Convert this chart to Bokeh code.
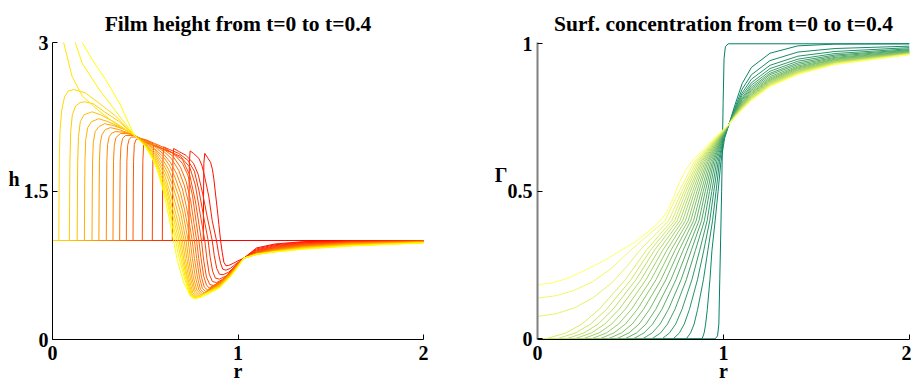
from bokeh.plotting import figure
from bokeh.layouts import row
from bokeh.models import Range1d, FixedTicker, LinearAxis
from bokeh.embed import file_html
from bokeh.resources import INLINE

# ---------------------------------------------------------------- data
times = [0.00, 0.02, 0.04, 0.06, 0.08, 0.10, 0.12, 0.14, 0.16, 0.18, 0.20,
         0.22, 0.24, 0.26, 0.28, 0.30, 0.32, 0.34, 0.36, 0.38, 0.40]

# film height h(r): head of each profile (up to r = 1.03), then shared tail grid
film_head_r = [
    [0.0, 2.0],
    [0, 0.813, 0.8145, 0.816, 0.821, 0.835, 0.852, 0.862, 0.87, 0.88, 0.888, 0.897, 0.906, 0.915, 0.924, 0.935, 0.95, 0.975, 1.0, 1.03],
    [0, 0.735, 0.7365, 0.738, 0.742, 0.76, 0.789, 0.805, 0.816, 0.83, 0.843, 0.861, 0.884, 0.895, 0.906, 0.918, 0.935, 0.96, 0.99, 1.03],
    [0, 0.646, 0.6475, 0.649, 0.653, 0.68, 0.72, 0.76, 0.785, 0.81, 0.835, 0.861, 0.872, 0.885, 0.9, 0.92, 0.95, 0.99, 1.03],
    [0, 0.592, 0.5935, 0.595, 0.599, 0.63, 0.68, 0.73, 0.765, 0.79, 0.815, 0.839, 0.85, 0.863, 0.878, 0.9, 0.94, 0.985, 1.03],
    [0, 0.538, 0.5395, 0.541, 0.545, 0.58, 0.63, 0.69, 0.74, 0.77, 0.797, 0.821, 0.832, 0.845, 0.862, 0.885, 0.93, 0.98, 1.03],
    [0, 0.484, 0.4855, 0.487, 0.492, 0.53, 0.58, 0.64, 0.7, 0.74, 0.77, 0.79, 0.803, 0.815, 0.83, 0.848, 0.87, 0.92, 0.975, 1.03],
    [0, 0.434, 0.4355, 0.437, 0.441, 0.45, 0.465, 0.5, 0.55, 0.6, 0.65, 0.7, 0.73, 0.755, 0.775, 0.789, 0.8, 0.815, 0.83, 0.845, 0.9, 0.96, 1.0, 1.03],
    [0, 0.398, 0.3995, 0.401, 0.405, 0.413, 0.425, 0.45, 0.5, 0.55, 0.6, 0.65, 0.69, 0.72, 0.745, 0.763, 0.777, 0.788, 0.803, 0.818, 0.835, 0.9, 0.96, 1.0, 1.03],
    [0, 0.362, 0.3635, 0.365, 0.369, 0.378, 0.393, 0.44, 0.5, 0.55, 0.6, 0.64, 0.68, 0.71, 0.735, 0.752, 0.765, 0.777, 0.792, 0.808, 0.826, 0.9, 0.96, 1.0, 1.03],
    [0, 0.326, 0.3275, 0.329, 0.333, 0.342, 0.366, 0.4, 0.44, 0.5, 0.55, 0.6, 0.635, 0.67, 0.7, 0.722, 0.74, 0.753, 0.765, 0.781, 0.798, 0.818, 0.9, 0.96, 1.0, 1.03],
    [0, 0.29, 0.2915, 0.293, 0.297, 0.306, 0.32, 0.339, 0.38, 0.44, 0.5, 0.55, 0.6, 0.63, 0.66, 0.69, 0.712, 0.729, 0.742, 0.754, 0.77, 0.789, 0.81, 0.9, 0.96, 1.0, 1.03],
    [0, 0.25, 0.2515, 0.253, 0.257, 0.267, 0.285, 0.312, 0.36, 0.44, 0.5, 0.55, 0.6, 0.625, 0.65, 0.68, 0.702, 0.718, 0.731, 0.743, 0.759, 0.778, 0.803, 0.9, 0.96, 1.0, 1.03],
    [0, 0.213, 0.2145, 0.216, 0.22, 0.23, 0.25, 0.281, 0.33, 0.39, 0.44, 0.5, 0.55, 0.6, 0.62, 0.645, 0.67, 0.692, 0.707, 0.72, 0.733, 0.75, 0.77, 0.797, 0.9, 0.96, 1.0, 1.03],
    [0, 0.172, 0.1735, 0.175, 0.179, 0.19, 0.21, 0.249, 0.3, 0.37, 0.44, 0.5, 0.55, 0.6, 0.62, 0.64, 0.66, 0.682, 0.697, 0.71, 0.724, 0.742, 0.764, 0.791, 0.9, 0.96, 1.0, 1.03],
    [0, 0.133, 0.1345, 0.136, 0.14, 0.15, 0.17, 0.213, 0.26, 0.33, 0.44, 0.5, 0.55, 0.6, 0.615, 0.635, 0.655, 0.673, 0.688, 0.7, 0.715, 0.734, 0.757, 0.785, 0.9, 0.96, 1.0, 1.03],
    [0, 0.091, 0.0925, 0.094, 0.098, 0.107, 0.125, 0.15, 0.178, 0.22, 0.28, 0.36, 0.44, 0.5, 0.55, 0.6, 0.615, 0.632, 0.65, 0.665, 0.679, 0.691, 0.707, 0.727, 0.752, 0.78, 0.9, 0.96, 1.0, 1.03],
    [0, 0.034, 0.0355, 0.037, 0.041, 0.05, 0.065, 0.085, 0.115, 0.178, 0.249, 0.339, 0.44, 0.5, 0.55, 0.6, 0.615, 0.63, 0.645, 0.66, 0.672, 0.682, 0.7, 0.722, 0.748, 0.775, 0.9, 0.96, 1.0, 1.03],
    [0, 0.03, 0.06, 0.105, 0.16, 0.25, 0.339, 0.44, 0.5, 0.55, 0.6, 0.615, 0.63, 0.645, 0.66, 0.673, 0.692, 0.716, 0.744, 0.77, 0.9, 0.96, 1.0, 1.03],
    [0, 0.06, 0.123, 0.16, 0.25, 0.339, 0.44, 0.5, 0.55, 0.6, 0.62, 0.637, 0.65, 0.663, 0.683, 0.71, 0.74, 0.766, 0.9, 0.96, 1.0, 1.03],
    [0, 0.08, 0.16, 0.213, 0.285, 0.366, 0.44, 0.5, 0.54, 0.565, 0.6, 0.637, 0.652, 0.673, 0.708, 0.744, 0.762, 0.8, 0.834, 0.9, 0.96, 1.0, 1.03],
]
film_head_h = [
    [1.0, 1.0],
    [1, 1, 1.5, 1.78, 1.88, 1.84, 1.79, 1.72, 1.62, 1.45, 1.32, 1.16, 1.0, 0.88, 0.78, 0.745, 0.748, 0.77, 0.795, 0.82],
    [1, 1, 1.5, 1.8, 1.905, 1.88, 1.83, 1.76, 1.68, 1.56, 1.44, 1.2, 1.0, 0.87, 0.77, 0.71, 0.70, 0.72, 0.765, 0.82],
    [1, 1, 1.5, 1.8, 1.93, 1.9, 1.86, 1.78, 1.67, 1.47, 1.23, 1.0, 0.85, 0.72, 0.66, 0.655, 0.68, 0.75, 0.82],
    [1, 1, 1.5, 1.8, 1.945, 1.92, 1.88, 1.81, 1.70, 1.50, 1.24, 1.0, 0.83, 0.69, 0.62, 0.61, 0.645, 0.74, 0.82],
    [1, 1, 1.5, 1.8, 1.96, 1.94, 1.9, 1.85, 1.74, 1.56, 1.26, 1.0, 0.82, 0.66, 0.585, 0.575, 0.62, 0.73, 0.82],
    [1, 1, 1.5, 1.8, 2.0, 1.97, 1.935, 1.89, 1.82, 1.66, 1.40, 1.16, 1.0, 0.8, 0.63, 0.555, 0.545, 0.6, 0.72, 0.82],
    [1, 1, 1.5, 1.8, 1.97, 2.02, 2.03, 2.02, 1.98, 1.94, 1.88, 1.78, 1.66, 1.45, 1.18, 1.0, 0.83, 0.64, 0.55, 0.52, 0.58, 0.68, 0.765, 0.82],
    [1, 1, 1.5, 1.8, 1.96, 2.02, 2.045, 2.045, 2.015, 1.97, 1.92, 1.85, 1.74, 1.6, 1.4, 1.17, 1.0, 0.82, 0.63, 0.53, 0.5, 0.575, 0.676, 0.763, 0.82],
    [1, 1, 1.5, 1.8, 1.95, 2.03, 2.06, 2.06, 2.01, 1.96, 1.9, 1.83, 1.71, 1.56, 1.37, 1.16, 1.0, 0.82, 0.63, 0.515, 0.485, 0.57, 0.673, 0.76, 0.82],
    [1, 1, 1.5, 1.8, 1.96, 2.04, 2.08, 2.08, 2.065, 2.005, 1.95, 1.87, 1.79, 1.67, 1.52, 1.34, 1.15, 1.0, 0.82, 0.63, 0.505, 0.47, 0.565, 0.669, 0.758, 0.82],
    [1, 1, 1.5, 1.8, 1.97, 2.05, 2.085, 2.1, 2.095, 2.065, 1.995, 1.93, 1.84, 1.76, 1.64, 1.48, 1.31, 1.14, 1.0, 0.82, 0.63, 0.5, 0.458, 0.56, 0.666, 0.755, 0.82],
    [1, 1, 1.5, 1.8, 1.98, 2.07, 2.12, 2.14, 2.12, 2.065, 1.99, 1.92, 1.8, 1.72, 1.61, 1.45, 1.29, 1.13, 1.0, 0.82, 0.63, 0.5, 0.448, 0.555, 0.662, 0.753, 0.82],
    [1, 1, 1.5, 1.8, 1.99, 2.1, 2.15, 2.18, 2.16, 2.12, 2.065, 1.98, 1.9, 1.76, 1.69, 1.57, 1.42, 1.27, 1.12, 1.0, 0.82, 0.63, 0.49, 0.44, 0.55, 0.659, 0.75, 0.82],
    [1, 1, 1.5, 1.8, 2.02, 2.14, 2.2, 2.23, 2.2, 2.14, 2.065, 1.975, 1.88, 1.72, 1.64, 1.53, 1.39, 1.24, 1.11, 1.0, 0.82, 0.63, 0.48, 0.434, 0.545, 0.655, 0.748, 0.82],
    [1, 1, 1.5, 1.8, 2.05, 2.2, 2.27, 2.3, 2.27, 2.2, 2.065, 1.97, 1.86, 1.68, 1.6, 1.48, 1.34, 1.21, 1.1, 1.0, 0.82, 0.63, 0.47, 0.428, 0.54, 0.652, 0.745, 0.82],
    [1, 1, 1.5, 1.8, 2.1, 2.27, 2.36, 2.395, 2.4, 2.38, 2.3, 2.2, 2.065, 1.965, 1.84, 1.63, 1.55, 1.43, 1.3, 1.19, 1.09, 1.0, 0.82, 0.63, 0.46, 0.423, 0.536, 0.648, 0.743, 0.82],
    [1, 1, 1.5, 1.85, 2.12, 2.32, 2.45, 2.51, 2.525, 2.49, 2.39, 2.26, 2.065, 1.96, 1.82, 1.59, 1.51, 1.39, 1.27, 1.16, 1.07, 1.0, 0.82, 0.63, 0.455, 0.419, 0.532, 0.645, 0.74, 0.82],
    [3.4, 3.25, 3.0, 2.66, 2.46, 2.31, 2.18, 2.065, 1.955, 1.8, 1.55, 1.45, 1.33, 1.2, 1.09, 1.0, 0.82, 0.63, 0.45, 0.417, 0.528, 0.642, 0.738, 0.82],
    [3.35, 3.22, 3.0, 2.79, 2.53, 2.31, 2.065, 1.953, 1.79, 1.52, 1.38, 1.22, 1.11, 1.0, 0.82, 0.63, 0.445, 0.415, 0.524, 0.638, 0.737, 0.82],
    [3.4, 3.25, 3.0, 2.83, 2.63, 2.37, 2.065, 1.95, 1.82, 1.72, 1.48, 1.15, 1.0, 0.8, 0.57, 0.44, 0.414, 0.425, 0.455, 0.52, 0.635, 0.735, 0.82],
]
film_tail_r = [1.1, 1.2, 1.35, 1.6, 2.0]
film_tail_h = [
    [],
    [0.925, 0.965, 0.988, 0.997, 1.0],
    [0.915, 0.957, 0.983, 0.995, 0.999],
    [0.905, 0.948, 0.978, 0.993, 0.998],
    [0.897, 0.94, 0.972, 0.99, 0.997],
    [0.89, 0.933, 0.966, 0.987, 0.996],
    [0.884, 0.927, 0.96, 0.984, 0.995],
    [0.879, 0.921, 0.955, 0.981, 0.994],
    [0.875, 0.916, 0.95, 0.978, 0.992],
    [0.872, 0.911, 0.946, 0.975, 0.991],
    [0.869, 0.907, 0.942, 0.972, 0.989],
    [0.867, 0.903, 0.938, 0.969, 0.988],
    [0.865, 0.9, 0.935, 0.966, 0.986],
    [0.864, 0.897, 0.932, 0.963, 0.984],
    [0.863, 0.894, 0.929, 0.96, 0.983],
    [0.862, 0.892, 0.926, 0.957, 0.981],
    [0.861, 0.89, 0.923, 0.954, 0.98],
    [0.86, 0.888, 0.92, 0.951, 0.979],
    [0.86, 0.887, 0.917, 0.948, 0.978],
    [0.86, 0.886, 0.915, 0.946, 0.977],
    [0.86, 0.885, 0.912, 0.944, 0.976],
]

# surfactant concentration Gamma(r): head of each profile, then shared tail grid
surf_head_r = [
    [0, 0.955, 0.968, 0.975, 0.98, 0.99, 0.998, 1.003, 1.01, 1.025, 2.0],
    [0, 0.885, 0.896, 0.904, 0.913, 0.927, 0.938, 0.955, 0.971, 0.986, 1.006, 1.03],
    [0, 0.80, 0.823, 0.842, 0.861, 0.892, 0.916, 0.941, 0.96, 0.978, 1.003, 1.03],
    [0, 0.73, 0.763, 0.789, 0.817, 0.86, 0.894, 0.926, 0.948, 0.971, 1.001, 1.03],
    [0, 0.67, 0.71, 0.743, 0.777, 0.83, 0.872, 0.912, 0.937, 0.963, 0.998, 1.03],
    [0, 0.615, 0.662, 0.699, 0.739, 0.8, 0.849, 0.897, 0.925, 0.955, 0.995, 1.03],
    [0, 0.565, 0.617, 0.659, 0.704, 0.772, 0.827, 0.882, 0.914, 0.947, 0.992, 1.03],
    [0, 0.515, 0.573, 0.619, 0.669, 0.744, 0.805, 0.868, 0.902, 0.94, 0.99, 1.03],
    [0, 0.47, 0.533, 0.583, 0.636, 0.717, 0.783, 0.853, 0.891, 0.932, 0.987, 1.03],
    [0, 0.425, 0.492, 0.546, 0.603, 0.69, 0.761, 0.839, 0.88, 0.924, 0.984, 1.03],
    [0, 0.38, 0.452, 0.509, 0.57, 0.664, 0.739, 0.824, 0.868, 0.916, 0.982, 1.03],
    [0, 0.335, 0.411, 0.473, 0.537, 0.637, 0.717, 0.81, 0.857, 0.909, 0.979, 1.03],
    [0, 0.29, 0.371, 0.436, 0.505, 0.61, 0.695, 0.795, 0.845, 0.901, 0.976, 1.03],
    [0, 0.245, 0.331, 0.399, 0.472, 0.583, 0.673, 0.78, 0.834, 0.893, 0.974, 1.03],
    [0, 0.2, 0.29, 0.362, 0.439, 0.556, 0.651, 0.766, 0.822, 0.885, 0.971, 1.03],
    [0, 0.155, 0.25, 0.326, 0.406, 0.529, 0.629, 0.751, 0.811, 0.878, 0.968, 1.03],
    [0, 0.105, 0.205, 0.286, 0.371, 0.502, 0.607, 0.737, 0.799, 0.87, 0.966, 1.03],
    [0, 0.045, 0.153, 0.239, 0.331, 0.472, 0.585, 0.722, 0.788, 0.862, 0.963, 1.03],
    [0, 0.1, 0.2, 0.3, 0.4, 0.48, 0.55, 0.705, 0.776, 0.853, 0.96, 1.03],
    [0, 0.1, 0.2, 0.3, 0.4, 0.5, 0.685, 0.762, 0.843, 0.956, 1.03],
    [0, 0.078, 0.167, 0.257, 0.347, 0.436, 0.526, 0.616, 0.67, 0.705, 0.732, 0.759, 0.795, 0.831, 0.885, 0.95, 1.03],
]
surf_head_g = [
    [0, 0, 0.01, 0.05, 0.2, 0.5, 0.8, 0.95, 0.99, 1.0, 1.0],
    [0, 0, 0.02, 0.05, 0.1, 0.2, 0.3, 0.4, 0.5, 0.6, 0.68, 0.728],
    [0, 0, 0.02, 0.05, 0.1, 0.2, 0.3, 0.4, 0.5, 0.6, 0.68, 0.728],
    [0, 0, 0.02, 0.05, 0.1, 0.2, 0.3, 0.4, 0.5, 0.6, 0.68, 0.728],
    [0, 0, 0.02, 0.05, 0.1, 0.2, 0.3, 0.4, 0.5, 0.6, 0.68, 0.728],
    [0, 0, 0.02, 0.05, 0.1, 0.2, 0.3, 0.4, 0.5, 0.6, 0.68, 0.728],
    [0, 0, 0.02, 0.05, 0.1, 0.2, 0.3, 0.4, 0.5, 0.6, 0.68, 0.728],
    [0, 0, 0.02, 0.05, 0.1, 0.2, 0.3, 0.4, 0.5, 0.6, 0.68, 0.728],
    [0, 0, 0.02, 0.05, 0.1, 0.2, 0.3, 0.4, 0.5, 0.6, 0.68, 0.728],
    [0, 0, 0.02, 0.05, 0.1, 0.2, 0.3, 0.4, 0.5, 0.6, 0.68, 0.728],
    [0, 0, 0.02, 0.05, 0.1, 0.2, 0.3, 0.4, 0.5, 0.6, 0.68, 0.728],
    [0, 0, 0.02, 0.05, 0.1, 0.2, 0.3, 0.4, 0.5, 0.6, 0.68, 0.728],
    [0, 0, 0.02, 0.05, 0.1, 0.2, 0.3, 0.4, 0.5, 0.6, 0.68, 0.728],
    [0, 0, 0.02, 0.05, 0.1, 0.2, 0.3, 0.4, 0.5, 0.6, 0.68, 0.728],
    [0, 0, 0.02, 0.05, 0.1, 0.2, 0.3, 0.4, 0.5, 0.6, 0.68, 0.728],
    [0, 0, 0.02, 0.05, 0.1, 0.2, 0.3, 0.4, 0.5, 0.6, 0.68, 0.728],
    [0, 0, 0.02, 0.05, 0.1, 0.2, 0.3, 0.4, 0.5, 0.6, 0.68, 0.728],
    [0, 0, 0.02, 0.05, 0.1, 0.2, 0.3, 0.4, 0.5, 0.6, 0.68, 0.728],
    [0.076, 0.085, 0.105, 0.14, 0.19, 0.245, 0.3, 0.4, 0.5, 0.6, 0.68, 0.728],
    [0.138, 0.146, 0.165, 0.195, 0.24, 0.3, 0.4, 0.5, 0.6, 0.68, 0.728],
    [0.183, 0.189, 0.206, 0.233, 0.261, 0.295, 0.329, 0.374, 0.407, 0.441, 0.48, 0.525, 0.57, 0.603, 0.637, 0.68, 0.728],
]
surf_tail_r = [1.06, 1.1, 1.15, 1.25, 1.4, 1.6, 2.0]
surf_tail_g = [
    [],
    [0.79, 0.865, 0.92, 0.968, 0.993, 0.999, 1.0],
    [0.781, 0.846, 0.895, 0.943, 0.972, 0.984, 0.992],
    [0.776, 0.833, 0.880, 0.927, 0.958, 0.974, 0.987],
    [0.772, 0.825, 0.868, 0.916, 0.948, 0.967, 0.983],
    [0.768, 0.817, 0.860, 0.907, 0.941, 0.962, 0.980],
    [0.766, 0.812, 0.853, 0.900, 0.935, 0.958, 0.978],
    [0.764, 0.808, 0.847, 0.895, 0.930, 0.954, 0.976],
    [0.762, 0.803, 0.842, 0.889, 0.925, 0.951, 0.974],
    [0.760, 0.800, 0.837, 0.884, 0.921, 0.948, 0.973],
    [0.759, 0.797, 0.833, 0.880, 0.918, 0.946, 0.971],
    [0.758, 0.794, 0.830, 0.877, 0.915, 0.943, 0.970],
    [0.757, 0.792, 0.826, 0.874, 0.912, 0.941, 0.969],
    [0.756, 0.789, 0.824, 0.871, 0.910, 0.940, 0.968],
    [0.755, 0.787, 0.821, 0.868, 0.907, 0.938, 0.967],
    [0.754, 0.785, 0.818, 0.865, 0.905, 0.936, 0.966],
    [0.753, 0.783, 0.816, 0.863, 0.903, 0.935, 0.966],
    [0.752, 0.782, 0.814, 0.861, 0.901, 0.934, 0.965],
    [0.751, 0.780, 0.812, 0.859, 0.899, 0.932, 0.964],
    [0.751, 0.778, 0.810, 0.857, 0.898, 0.931, 0.964],
    [0.750, 0.777, 0.808, 0.855, 0.896, 0.930, 0.963],
]

r_ticks = [0, 1, 2]
h_ticks = [0, 1.5, 3]
g_ticks = [0, 0.5, 1]

# ---------------------------------------------------------------- helpers
FONT = "Liberation Serif"
n_curves = len(times)


def hexcol(r, g, b):
    return "#%02x%02x%02x" % (round(255 * r), round(255 * g), round(255 * b))


def autumn(k):
    c = k / (n_curves - 1)
    return hexcol(1.0, c, 0.0)


def summer(k):
    c = k / (n_curves - 1)
    return hexcol(c, 0.5 + 0.5 * c, 0.4)


def style_axis(ax):
    ax.major_label_text_font = FONT
    ax.major_label_text_font_style = "bold"
    ax.major_label_text_font_size = "20px"
    ax.major_label_text_color = "black"
    ax.minor_tick_line_color = None


def make_panel(width, left, right, top, bottom, y_range, y_ticks, y_overrides, title):
    p = figure(width=width, height=389, x_range=Range1d(0, 2), y_range=y_range,
               output_backend="svg", toolbar_location=None, title=title,
               min_border_left=left, min_border_right=right,
               min_border_top=top, min_border_bottom=bottom)
    p.grid.visible = False
    p.outline_line_color = None
    p.background_fill_color = "white"
    p.border_fill_color = "white"

    p.title.align = "center"
    p.title.text_font = FONT
    p.title.text_font_style = "bold"
    p.title.text_font_size = "21.5px"
    p.title.text_color = "black"
    p.title.standoff = 13

    p.xaxis.ticker = FixedTicker(ticks=r_ticks)
    p.yaxis.ticker = FixedTicker(ticks=y_ticks)
    p.xaxis.major_label_overrides = {0: "0", 1: "1", 2: "2"}
    p.yaxis.major_label_overrides = y_overrides
    for ax in (p.xaxis[0], p.yaxis[0]):
        style_axis(ax)
        ax.major_tick_in = 5
        ax.major_tick_out = 0
        ax.major_tick_line_color = "black"
        ax.axis_line_color = "black"
    p.xaxis.major_label_standoff = 6
    p.yaxis.major_label_standoff = 4

    p.xaxis.axis_label = "r"
    p.xaxis.axis_label_text_font = FONT
    p.xaxis.axis_label_text_font_style = "bold"
    p.xaxis.axis_label_text_font_size = "20px"
    p.xaxis.axis_label_text_color = "black"
    p.xaxis.axis_label_standoff = -3
    return p


def side_label(p, pos, s, standoff):
    # upright axis name, placed as a lone tick label just outside the y tick labels
    ax = LinearAxis(ticker=FixedTicker(ticks=[pos]), major_label_overrides={pos: s},
                    axis_line_color=None, major_tick_line_color=None,
                    major_tick_in=0, major_tick_out=0,
                    major_label_standoff=standoff)
    style_axis(ax)
    p.add_layout(ax, "left")


# ---------------------------------------------------------------- film height
p1 = make_panel(455, 52, 32, 42, 50, Range1d(0, 3), h_ticks,
                {0: "0", 1.5: "1.5", 3: "3"}, "Film height from t=0 to t=0.4")
xs1 = [film_head_r[k] + (film_tail_r if k else []) for k in range(n_curves)]
ys1 = [film_head_h[k] + film_tail_h[k] for k in range(n_curves)]
p1.multi_line(xs=xs1, ys=ys1, line_color=[autumn(k) for k in range(n_curves)],
              line_width=1)
side_label(p1, 1.62, "h", 1)

# ---------------------------------------------------------------- surfactant
p2 = make_panel(456, 82, 2, 41, 49, Range1d(-0.00236, 1.00438), g_ticks,
                {0: "0", 0.5: "0.5", 1: "1"}, "Surf. concentration from t=0 to t=0.4")
p2.yaxis[0].axis_line_color = "#808080"
p2.yaxis[0].axis_line_width = 2
p2.yaxis[0].major_label_standoff = 5
xs2 = [surf_head_r[k] + (surf_tail_r if k else []) for k in range(n_curves)]
ys2 = [surf_head_g[k] + surf_tail_g[k] for k in range(n_curves)]
p2.multi_line(xs=xs2, ys=ys2, line_color=[summer(k) for k in range(n_curves)],
              line_width=1)
side_label(p2, 0.556, "\u0393", -3)

layout = row(p1, p2)
open("out.html", "w").write(file_html(layout, INLINE))
